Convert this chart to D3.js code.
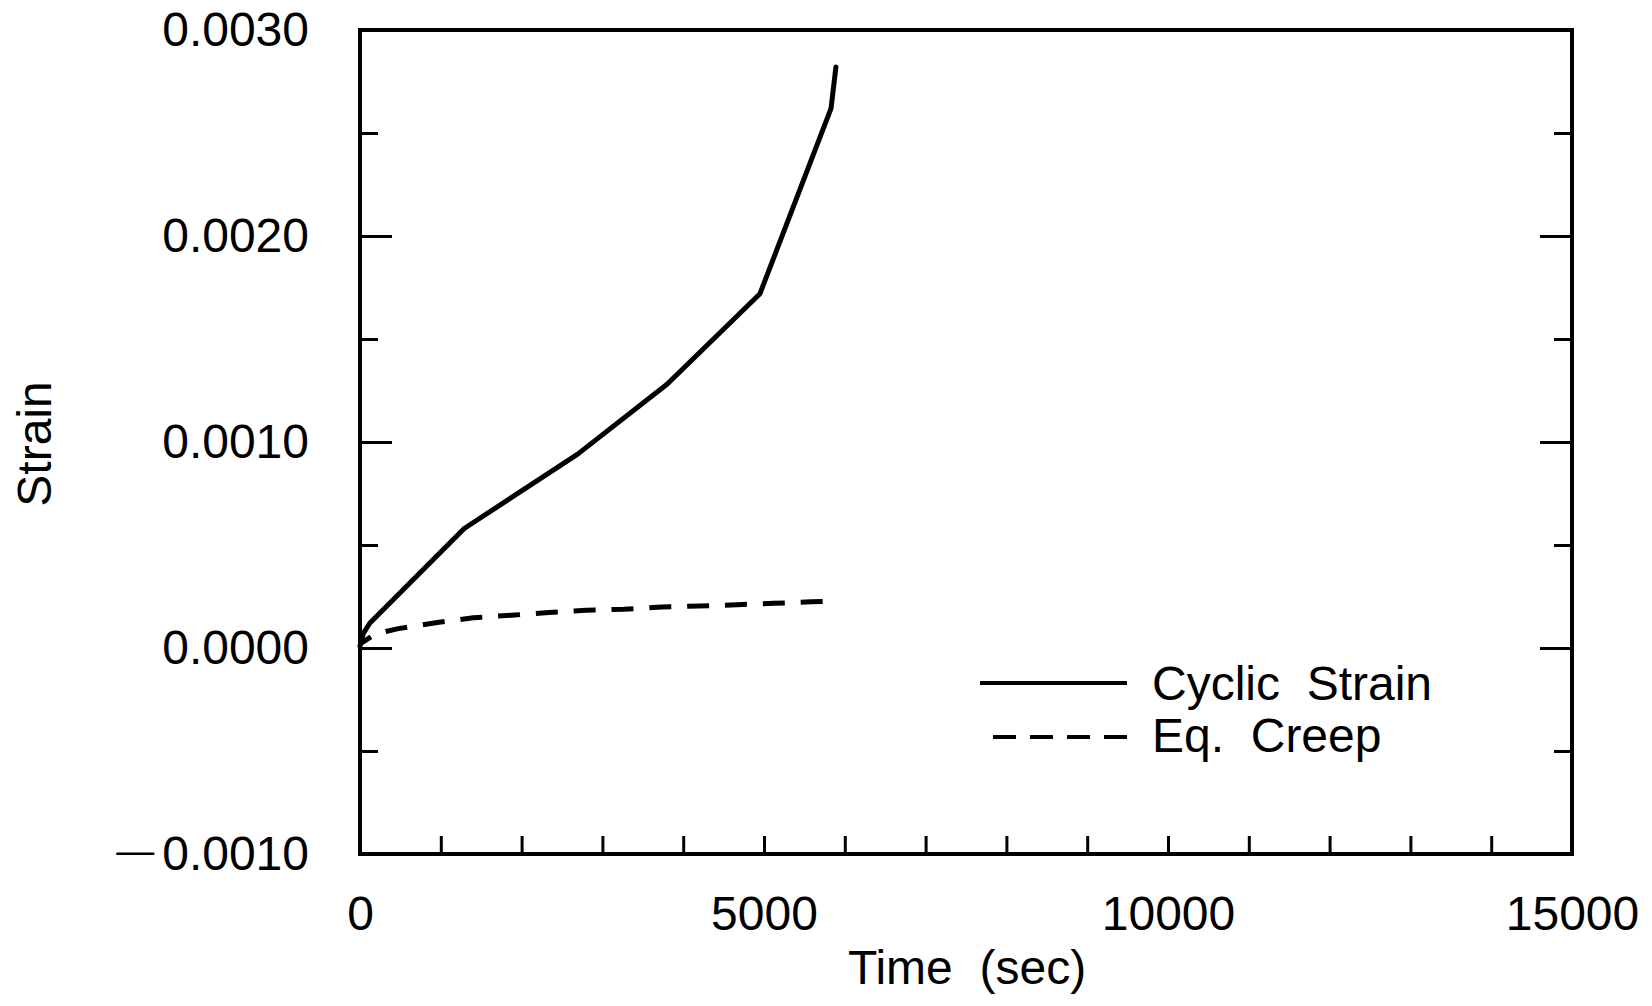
<!DOCTYPE html>
<html>
<head>
<meta charset="utf-8">
<script src="https://cdn.jsdelivr.net/npm/d3@7"></script>
<style>
  body { margin: 0; background: #fff; }
  text { font-family: "Liberation Sans", Arial, sans-serif; fill: #000; }
</style>
</head>
<body>
<div id="chart"></div>
<script>
// data: [time (sec), strain]
const cyclicStrain = [
  [0, 0.00001], [40, 0.00007], [120, 0.00012], [1290, 0.00058],
  [2690, 0.00094], [3800, 0.00128], [4950, 0.00172], [5830, 0.00262], [5890, 0.00282]
];
const eqCreep = [
  [0, 0.00002], [200, 0.00007], [475, 0.000094], [937, 0.000123], [1403, 0.000147],
  [1873, 0.000159], [2339, 0.000172], [2797, 0.000183], [3263, 0.000188], [3729, 0.000199],
  [4196, 0.000204], [4666, 0.00021], [5124, 0.000217], [5586, 0.000224], [5726, 0.000226]
];
const xTickLabels = [0, 5000, 10000, 15000];
const yTickLabels = [-0.001, 0, 0.001, 0.002, 0.003];
const yMinorTicks = [-0.0005, 0.0005, 0.0015, 0.0025];
const legendNames = ["Cyclic  Strain", "Eq.  Creep"];

const width = 1652, height = 1006;
const plotLeft = 360, plotRight = 1572, plotTop = 30, plotBottom = 854;

const svg = d3.select("#chart").append("svg")
  .attr("width", width)
  .attr("height", height);

const x = d3.scaleLinear().domain([0, 15000]).range([plotLeft, plotRight]);
const y = d3.scaleLinear().domain([-0.001, 0.003]).range([plotBottom, plotTop]);

function clean(g) {
  g.select(".domain").remove();
  g.selectAll(".tick line").attr("stroke", "#000").attr("stroke-width", 3);
}

// x minor ticks (every 1000)
svg.append("g")
  .attr("transform", `translate(0,${plotBottom})`)
  .call(d3.axisBottom(x).tickValues(d3.range(1000, 15000, 1000)).tickSize(-18).tickFormat(""))
  .call(clean);

// x labels
svg.append("g")
  .attr("transform", `translate(0,${plotBottom})`)
  .call(d3.axisBottom(x).tickValues(xTickLabels).tickSize(0).tickPadding(42).tickFormat(d3.format("d")))
  .call(clean)
  .selectAll("text").attr("font-size", 48).attr("font-family", "Liberation Sans, Arial, sans-serif");

// y ticks left and right: major and minor
[[d3.axisLeft, plotLeft], [d3.axisRight, plotRight]].forEach(([ax, px]) => {
  svg.append("g")
    .attr("transform", `translate(${px},0)`)
    .call(ax(y).tickValues(yTickLabels).tickSize(-32).tickFormat(""))
    .call(clean);
  svg.append("g")
    .attr("transform", `translate(${px},0)`)
    .call(ax(y).tickValues(yMinorTicks).tickSize(-18).tickFormat(""))
    .call(clean);
});

// y labels (long minus drawn as a separate tspan)
const yLab = svg.append("g")
  .attr("transform", `translate(${plotLeft},0)`)
  .call(d3.axisLeft(y).tickValues(yTickLabels).tickSize(0).tickPadding(51).tickFormat(""))
  .call(clean);
yLab.selectAll(".tick text")
  .attr("font-size", 48).attr("font-family", "Liberation Sans, Arial, sans-serif")
  .attr("dy", null)
  .each(function(d) {
    const t = d3.select(this);
    const num = d3.format(".4f")(Math.abs(d));
    if (d < 0) {
      t.append("tspan").attr("font-size", 38).attr("dy", 9).text("\u2014");
      t.append("tspan").attr("dx", 8).attr("dy", 6).text(num);
    } else {
      t.append("tspan").attr("dy", 15).text(num);
    }
  });

// frame
svg.append("rect")
  .attr("x", plotLeft).attr("y", plotTop)
  .attr("width", plotRight - plotLeft).attr("height", plotBottom - plotTop)
  .attr("fill", "none").attr("stroke", "#000").attr("stroke-width", 4);

const line = d3.line().x(d => x(d[0])).y(d => y(d[1]));

svg.append("path")
  .datum(cyclicStrain)
  .attr("d", line)
  .attr("fill", "none").attr("stroke", "#000").attr("stroke-width", 5)
  .attr("stroke-linejoin", "round").attr("stroke-linecap", "round");

const creep = svg.append("path")
  .datum(eqCreep)
  .attr("d", line)
  .attr("fill", "none").attr("stroke", "#000").attr("stroke-width", 5);
// fit the dash pattern so a full dash ends at the last point
const len = creep.node().getTotalLength();
const dash = 22, off = 9;
const k = Math.round((len + off - dash) / 37);
const period = (len + off - dash) / k;
creep.attr("stroke-dasharray", `${dash},${period - dash}`).attr("stroke-dashoffset", off);

// axis titles
svg.append("text")
  .attr("x", 967).attr("y", 984)
  .attr("text-anchor", "middle").attr("font-size", 48)
  .style("white-space", "pre")
  .text("Time  (sec)");

svg.append("text")
  .attr("transform", "translate(51,444) rotate(-90)")
  .attr("text-anchor", "middle").attr("font-size", 48)
  .text("Strain");

// legend
const legend = svg.append("g");
legend.append("line")
  .attr("x1", 980).attr("x2", 1127).attr("y1", 683).attr("y2", 683)
  .attr("stroke", "#000").attr("stroke-width", 4);
legend.append("line")
  .attr("x1", 993).attr("x2", 1127).attr("y1", 737).attr("y2", 737)
  .attr("stroke", "#000").attr("stroke-width", 4)
  .attr("stroke-dasharray", "23,14");
legend.selectAll("text.leg")
  .data(legendNames)
  .enter().append("text")
  .attr("class", "leg")
  .attr("x", 1152)
  .attr("y", (d, i) => 700 + i * 52)
  .attr("font-size", 48)
  .style("white-space", "pre")
  .text(d => d);
</script>
</body>
</html>
